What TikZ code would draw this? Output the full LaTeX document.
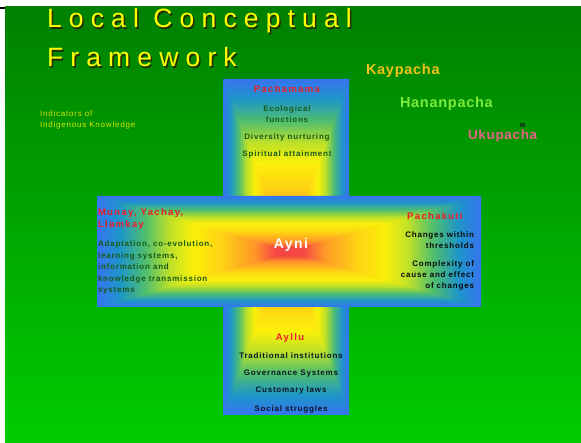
\documentclass[tikz,border=0pt]{standalone}
\usepackage{fontspec}
\setmainfont{Liberation Sans}
\newfontfamily\ttlfont[LetterSpace=27]{Liberation Sans}
\newfontfamily\spfont[LetterSpace=10]{Liberation Sans}
\newfontfamily\hdfont[LetterSpace=14]{Liberation Sans}
\newfontfamily\skyfont[LetterSpace=5]{Liberation Sans}

\definecolor{bgtop}{RGB}{0,128,0}
\definecolor{bgbot}{RGB}{0,204,0}
\definecolor{gA}{RGB}{245,70,70}
\definecolor{gB}{RGB}{255,150,40}
\definecolor{gH}{RGB}{255,210,20}
\definecolor{gC}{RGB}{250,240,10}
\definecolor{gD}{RGB}{190,225,40}
\definecolor{gE}{RGB}{80,190,110}
\definecolor{gF}{RGB}{30,150,200}
\definecolor{gG}{RGB}{55,115,240}
\definecolor{ttlyel}{RGB}{255,255,0}
\definecolor{ttlsh}{RGB}{40,45,0}
\definecolor{kaycol}{RGB}{240,195,20}
\definecolor{hancol}{RGB}{125,235,60}
\definecolor{ukucol}{RGB}{228,100,135}
\definecolor{indcol}{RGB}{215,230,0}
\definecolor{hdred}{RGB}{235,30,40}
\definecolor{dkgreen}{RGB}{25,90,25}
\definecolor{dkblack}{RGB}{10,10,10}
\definecolor{dknavy}{RGB}{12,20,35}
\definecolor{sqcol}{RGB}{20,70,20}

\pgfdeclareverticalshading{boxN}{100bp}{color(0bp)=(gA); color(25bp)=(gA); color(28.5bp)=(gA); color(34bp)=(gB); color(42.5bp)=(gH); color(50bp)=(gC); color(56bp)=(gD); color(62.5bp)=(gE); color(69bp)=(gF); color(75bp)=(gG); color(100bp)=(gG)}
\pgfdeclareverticalshading{boxS}{100bp}{color(0bp)=(gG); color(25bp)=(gG); color(31bp)=(gF); color(37.5bp)=(gE); color(44bp)=(gD); color(50bp)=(gC); color(57.5bp)=(gH); color(66bp)=(gB); color(71.5bp)=(gA); color(75bp)=(gA); color(100bp)=(gA)}
\pgfdeclarehorizontalshading{boxW}{100bp}{color(0bp)=(gG); color(25bp)=(gG); color(31bp)=(gF); color(37.5bp)=(gE); color(44bp)=(gD); color(50bp)=(gC); color(57.5bp)=(gH); color(66bp)=(gB); color(71.5bp)=(gA); color(75bp)=(gA); color(100bp)=(gA)}
\pgfdeclarehorizontalshading{boxE}{100bp}{color(0bp)=(gA); color(25bp)=(gA); color(28.5bp)=(gA); color(34bp)=(gB); color(42.5bp)=(gH); color(50bp)=(gC); color(56bp)=(gD); color(62.5bp)=(gE); color(69bp)=(gF); color(75bp)=(gG); color(100bp)=(gG)}

\newcommand\glowbox[4]{%
  \pgfmathsetmacro\gcx{(#1+#3)/2}%
  \pgfmathsetmacro\gcy{(#2+#4)/2}%
  \begin{scope}
    \clip (#1-1,#2) -- (#3+1,#2) -- (\gcx+1.5,\gcy) -- (\gcx-1.5,\gcy) -- cycle;
    \shade[shading=boxN] (#1,#2) rectangle (#3,\gcy);
  \end{scope}
  \begin{scope}
    \clip (#1-1,#4) -- (#3+1,#4) -- (\gcx+1.5,\gcy) -- (\gcx-1.5,\gcy) -- cycle;
    \shade[shading=boxS] (#1,\gcy) rectangle (#3,#4);
  \end{scope}
  \begin{scope}
    \clip (#1,#2) -- (#1,#4) -- (\gcx,\gcy) -- cycle;
    \shade[shading=boxW] (#1,#2) rectangle (\gcx,#4);
  \end{scope}
  \begin{scope}
    \clip (#3,#2) -- (#3,#4) -- (\gcx,\gcy) -- cycle;
    \shade[shading=boxE] (\gcx,#2) rectangle (#3,#4);
  \end{scope}
}

\tikzset{
  txt/.style={inner sep=0pt, outer sep=0pt},
  ttl/.style={txt, anchor=base west, font=\ttlfont\fontsize{26.5}{30}\selectfont},
  sky/.style={txt, anchor=base west, font=\skyfont\bfseries\fontsize{14.5}{17}\selectfont},
  ind/.style={txt, anchor=base west, text=indcol, font=\spfont\fontsize{8}{10}\selectfont},
  head/.style={txt, anchor=base, text=hdred, font=\hdfont\bfseries\fontsize{9.5}{11}\selectfont},
  body/.style={txt, anchor=base, font=\spfont\bfseries\fontsize{8}{10}\selectfont},
}

\begin{document}
\begin{tikzpicture}[x=1pt,y=-1pt]
\useasboundingbox (0,0) rectangle (581,443);
\fill[white] (0,0) rectangle (581,443);
\shade[top color=bgtop, bottom color=bgbot] (5,7) rectangle (581,443);
\fill[black] (0,6.8) rectangle (5,9);

% cross
\glowbox{223}{79}{349}{415}
\glowbox{97}{196}{481}{307}

% title
\node[ttl, text=ttlsh] (t1s) at (48.5,29.5) {Local Conceptual};
\node[ttl, text=ttlsh] (t2s) at (48.5,68.5) {Framework};
\node[ttl, text=ttlyel] (t1) at (47,28) {Local Conceptual};
\node[ttl, text=ttlyel] (t2) at (47,67) {Framework};

% worlds
\node[sky, text=kaycol] (kay) at (366,75) {Kaypacha};
\node[sky, text=hancol] (han) at (400,108) {Hananpacha};
\node[sky, text=ukucol, font=\skyfont\bfseries\fontsize{13.5}{16}\selectfont] (uku) at (468,140) {Ukupacha};
\fill[sqcol] (520,123) rectangle (524.5,127);

% indicators
\node[ind] (ind1) at (40,117) {Indicators of};
\node[ind] (ind2) at (40,128) {Indigenous Knowledge};

% Pachamama
\node[head] (pm) at (287,93) {Pachamama};
\node[body, text=dkgreen] (pm1) at (287,112) {Ecological};
\node[body, text=dkgreen] (pm2) at (287,123) {functions};
\node[body, text=dkgreen] (pm3) at (287,140) {Diversity nurturing};
\node[body, text=dkgreen] (pm4) at (287,157) {Spiritual attainment};

% Munay
\node[head, anchor=base west] (mu1) at (98,216) {Munay, Yachay,};
\node[head, anchor=base west] (mu2) at (98,228) {Llamkay};
\node[body, anchor=base west, text=dkgreen] (mb1) at (98,247) {Adaptation, co-evolution,};
\node[body, anchor=base west, text=dkgreen] (mb2) at (98,258.5) {learning systems,};
\node[body, anchor=base west, text=dkgreen] (mb3) at (98,270) {information and};
\node[body, anchor=base west, text=dkgreen] (mb4) at (98,281.5) {knowledge transmission};
\node[body, anchor=base west, text=dkgreen] (mb5) at (98,293) {systems};

% Ayni
\node[txt, anchor=base, text=white, font=\spfont\bfseries\fontsize{14}{16}\selectfont] (ayni) at (291,249) {Ayni};

% Pachakuti
\node[head] (pk) at (435,220) {Pachakuti};
\node[body, anchor=base east, text=dkblack] (pk1) at (474,238) {Changes within};
\node[body, anchor=base east, text=dkblack] (pk2) at (474,249) {thresholds};
\node[body, anchor=base east, text=dkblack] (pk3) at (474,267) {Complexity of};
\node[body, anchor=base east, text=dkblack] (pk4) at (474,278) {cause and effect};
\node[body, anchor=base east, text=dkblack] (pk5) at (474,289) {of changes};

% Ayllu
\node[head] (ay) at (290,341) {Ayllu};
\node[body, text=dknavy] (ay1) at (291,359) {Traditional institutions};
\node[body, text=dknavy] (ay2) at (291,376) {Governance Systems};
\node[body, text=dknavy] (ay3) at (291,393) {Customary laws};
\node[body, text=dknavy] (ay4) at (291,411) {Social struggles};
\end{tikzpicture}
\end{document}
